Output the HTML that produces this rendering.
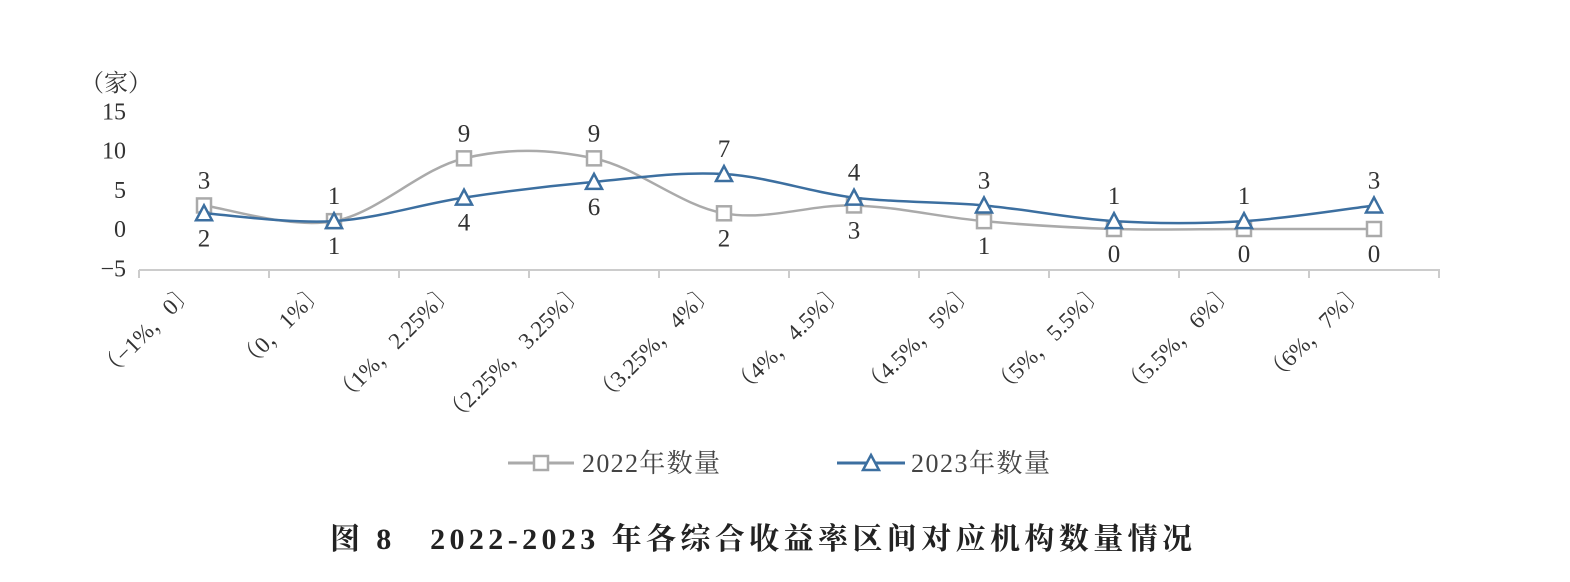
<!DOCTYPE html>
<html><head><meta charset="utf-8"><style>
html,body{margin:0;padding:0;background:#fff;}
svg{display:block;font-family:"Liberation Serif","Noto Serif CJK SC",serif;}
</style></head><body>
<svg id="chart" width="1570" height="582" viewBox="0 0 1570 582">
<text x="80" y="91" font-size="24" fill="#333">（家）</text>
<g id="yticks"></g>
<line x1="139" y1="270" x2="1440" y2="270" stroke="#ccc" stroke-width="2"/>
<g id="xticks"></g>
<g id="series"></g>
<g>
<g>
<line x1="508" y1="463" x2="574" y2="463" stroke="#aaa" stroke-width="3"/>
<rect x="534" y="456" width="14" height="14" fill="#fff" stroke="#aaa" stroke-width="2.5"/>
<text x="582" y="472" font-size="26" fill="#444" textLength="138">2022年数量</text>
</g>
<g>
<line x1="837" y1="463" x2="905" y2="463" stroke="#3c6fa0" stroke-width="3"/>
<path d="M871 455 L879 470 L863 470 Z" fill="#fff" stroke="#3c6fa0" stroke-width="2.5"/>
<text x="911" y="472" font-size="26" fill="#444" textLength="139">2023年数量</text>
</g>
</g>
<text x="330" y="549" font-size="30" font-weight="bold" fill="#222" textLength="862">图 8　2022-2023 年各综合收益率区间对应机构数量情况</text>
</svg>
<script>
const categories=["（−1%，0〕","（0，1%〕","（1%，2.25%〕","（2.25%，3.25%〕","（3.25%，4%〕","（4%，4.5%〕","（4.5%，5%〕","（5%，5.5%〕","（5.5%，6%〕","（6%，7%〕"];
const values2022=[3,1,9,9,2,3,1,0,0,0];
const values2023=[2,1,4,6,7,4,3,1,1,3];
const yTicks=[15,10,5,0,-5];
const NS="http://www.w3.org/2000/svg";
function xPos(i){return 204+i*130;}
function yPos(v){return 229-v*7.85;}
function mk(tag,attrs,parent){const e=document.createElementNS(NS,tag);for(const k in attrs)e.setAttribute(k,attrs[k]);parent.appendChild(e);return e;}
const yg=document.getElementById('yticks');
yTicks.forEach(t=>{const e=mk('text',{x:126,y:yPos(t)+8,'text-anchor':'end','font-size':24,fill:'#333'},yg);


e.textContent=t<0?'−'+(-t):t;});
const xg=document.getElementById('xticks');
for(let i=0;i<=10;i++){const l=mk('line',{x1:139+i*130,y1:270,x2:139+i*130,y2:278,stroke:'#ccc','stroke-width':2},xg);

}
categories.forEach((c,i)=>{const x=xPos(i)-8,y=292;
const e=mk('text',{x:x,y:y,'text-anchor':'end','font-size':23,fill:'#333',transform:`rotate(-45 ${x} ${y})`},xg);


e.textContent=c;});
function curve(vals){const p=vals.map((v,i)=>[xPos(i),yPos(v)]);let d=`M${p[0][0]} ${p[0][1]}`;const t=0.17;
for(let i=0;i<p.length-1;i++){const p0=p[i-1]||p[i],p1=p[i],p2=p[i+1],p3=p[i+2]||p[i+1];
const c1=[p1[0]+(p2[0]-p0[0])*t,p1[1]+(p2[1]-p0[1])*t],c2=[p2[0]-(p3[0]-p1[0])*t,p2[1]-(p3[1]-p1[1])*t];
d+=` C${c1[0]} ${c1[1]} ${c2[0]} ${c2[1]} ${p2[0]} ${p2[1]}`;}return d;}
const sg=document.getElementById('series');
[[values2022,'#aaa','2022'],[values2023,'#3c6fa0','2023']].forEach(([vals,col,name])=>{
const g=mk('g',{},sg);


const path=mk('path',{d:curve(vals),fill:'none',stroke:col,'stroke-width':2.5},g);


vals.forEach((v,i)=>{const x=xPos(i),y=yPos(v);let m;
if(name==='2022')m=mk('rect',{x:x-7,y:y-7,width:14,height:14,fill:'#fff',stroke:col,'stroke-width':2.5},g);
else m=mk('path',{d:`M${x} ${y-8} L${x+8} ${y+7} L${x-8} ${y+7} Z`,fill:'#fff',stroke:col,'stroke-width':2.5},g);

});
});
categories.forEach((c,i)=>{const a=values2022[i],b=values2023[i];
const aAbove=a>=b;
[[a,aAbove],[b,!aAbove]].forEach(([v,above])=>{const y=yPos(v);
const e=mk('text',{x:xPos(i),y:above?y-17:y+33,'text-anchor':'middle','font-size':25,fill:'#333'},sg);


e.textContent=v;});});
</script>
</body></html>
